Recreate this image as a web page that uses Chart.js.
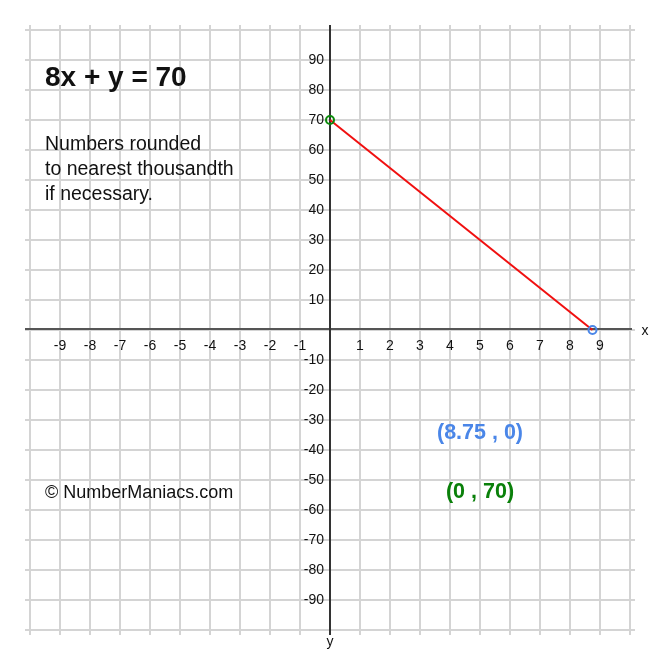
<!DOCTYPE html>
<html><head><meta charset="utf-8">
<script src="https://cdn.jsdelivr.net/npm/chart.js@4.4.0/dist/chart.umd.min.js"></script>
<style>html,body{margin:0;padding:0;background:#fff}#wrap{width:660px;height:660px}</style>
</head><body><div id="wrap"><canvas id="c" width="660" height="660"></canvas></div>
<script>
const xTicks = [-9,-8,-7,-6,-5,-4,-3,-2,-1,1,2,3,4,5,6,7,8,9];
const yTicks = [90,80,70,60,50,40,30,20,10,-10,-20,-30,-40,-50,-60,-70,-80,-90];
const lineX = [0, 8.75];
const lineY = [70, 0];
const pointColors = ['#0a8a0a', '#4a86e8'];
const title = '8x + y = 70';
const noteLines = ['Numbers rounded', 'to nearest thousandth', 'if necessary.'];
const credit = '\u00A9 NumberManiacs.com';
const pointLabels = ['(8.75 , 0)', '(0 , 70)'];
const labelColors = ['#4a86e8', '#0a800a'];

const FONT = '"Liberation Sans", Arial, sans-serif';

const gridPlugin = {
  id: 'grid',
  beforeDatasetsDraw(chart) {
    const ctx = chart.ctx, xs = chart.scales.x, ys = chart.scales.y;
    const left = xs.getPixelForValue(-10), right = xs.getPixelForValue(10);
    const top = ys.getPixelForValue(100), bottom = ys.getPixelForValue(-100);
    ctx.save();
    ctx.strokeStyle = '#d4d4d4'; ctx.lineWidth = 2;
    for (let v = -10; v <= 10; v++) {
      const px = Math.round(xs.getPixelForValue(v));
      ctx.beginPath(); ctx.moveTo(px, top - 5); ctx.lineTo(px, bottom + 5); ctx.stroke();
    }
    for (let v = -100; v <= 100; v += 10) {
      const py = Math.round(ys.getPixelForValue(v));
      ctx.beginPath(); ctx.moveTo(left - 5, py); ctx.lineTo(right + 5, py); ctx.stroke();
    }
    const x0 = Math.round(xs.getPixelForValue(0)), y0 = Math.round(ys.getPixelForValue(0));
    ctx.strokeStyle = '#555'; ctx.lineWidth = 2;
    ctx.beginPath(); ctx.moveTo(left - 5, y0 - 1); ctx.lineTo(right + 2, y0 - 1); ctx.stroke();
    ctx.strokeStyle = '#333';
    ctx.beginPath(); ctx.moveTo(x0, top - 5); ctx.lineTo(x0, bottom + 5); ctx.stroke();

    ctx.fillStyle = '#111';
    ctx.font = '14px ' + FONT;
    ctx.textAlign = 'center'; ctx.textBaseline = 'middle';
    xTicks.forEach(v => ctx.fillText(String(v), xs.getPixelForValue(v), y0 + 16));
    ctx.textAlign = 'right';
    yTicks.forEach(v => ctx.fillText(String(v), x0 - 6, ys.getPixelForValue(v)));
    ctx.textAlign = 'center';
    ctx.font = '14px ' + FONT;
    ctx.fillText('x', right + 15, y0 + 1);
    ctx.fillText('y', x0, bottom + 12);

    ctx.textAlign = 'left'; ctx.textBaseline = 'alphabetic';
    ctx.font = 'bold 28px ' + FONT;
    ctx.fillText(title, 45, 86);
    ctx.font = '19.5px ' + FONT;
    noteLines.forEach((t, i) => ctx.fillText(t, 45, 150 + i * 25));
    ctx.font = '18px ' + FONT;
    ctx.textBaseline = 'middle';
    ctx.fillText(credit, 45, 493);
    ctx.textAlign = 'center';
    ctx.font = 'bold 21.5px ' + FONT;
    ctx.fillStyle = labelColors[0];
    ctx.fillText(pointLabels[0], 480, 433);
    ctx.fillStyle = labelColors[1];
    ctx.fillText(pointLabels[1], 480, 492);
    ctx.restore();
  }
};

new Chart(document.getElementById('c'), {
  type: 'scatter',
  data: {
    datasets: [{
      data: lineX.map((x, i) => ({x, y: lineY[i]})),
      showLine: true,
      borderColor: '#f01010',
      borderWidth: 2,
      pointRadius: 4,
      pointBorderWidth: 2,
      pointBorderColor: pointColors,
      pointBackgroundColor: 'rgba(0,0,0,0)'
    }]
  },
  options: {
    responsive: false,
    animation: false,
    devicePixelRatio: 1,
    layout: { padding: { left: 30, right: 30, top: 30, bottom: 30 } },
    plugins: { legend: { display: false }, tooltip: { enabled: false } },
    scales: {
      x: { type: 'linear', min: -10, max: 10, display: false },
      y: { type: 'linear', min: -100, max: 100, display: false }
    }
  },
  plugins: [gridPlugin]
});
</script>
</body></html>
